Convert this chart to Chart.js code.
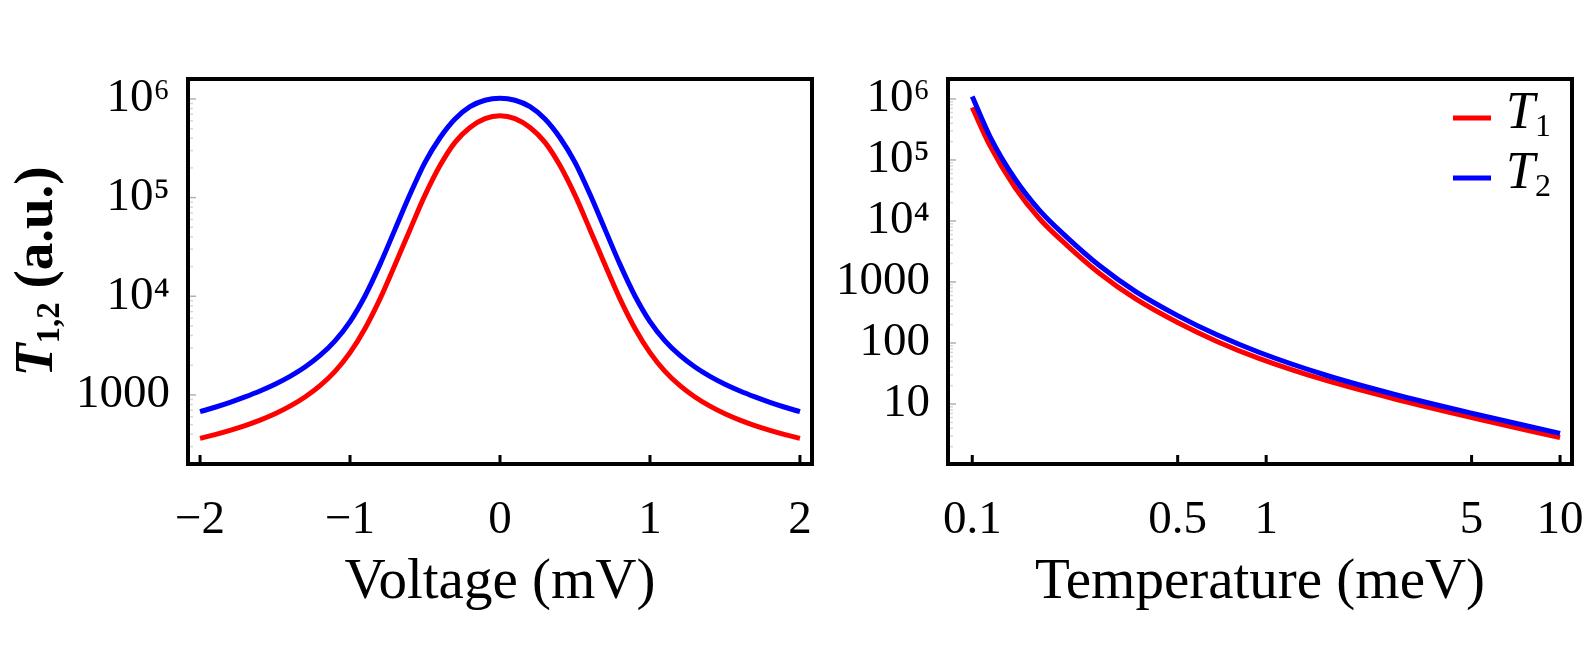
<!DOCTYPE html>
<html>
<head>
<meta charset="utf-8">
<script src="https://cdn.jsdelivr.net/npm/chart.js@4.4.0/dist/chart.umd.min.js"></script>
<style>
  html, body { margin: 0; padding: 0; background: #fff; }
  #wrap { position: relative; width: 1584px; height: 671px; overflow: hidden; background: #fff; }
  canvas { position: absolute; top: 0; }
  #voltageChart { left: 0; }
  #tempChart { left: 830px; }
</style>
</head>
<body>
<div id="wrap">
  <canvas id="voltageChart" width="830" height="671"></canvas>
  <canvas id="tempChart" width="754" height="671"></canvas>
</div>
<script>
// left panel: T1, T2 against voltage (mV)
const voltage = [-2.0, -1.9, -1.8, -1.7, -1.6, -1.5, -1.4, -1.3, -1.2, -1.1, -1.0,
  -0.9, -0.8, -0.7, -0.6, -0.5, -0.4, -0.3, -0.2, -0.1, 0.0,
  0.1, 0.2, 0.3, 0.4, 0.5, 0.6, 0.7, 0.8, 0.9, 1.0,
  1.1, 1.2, 1.3, 1.4, 1.5, 1.6, 1.7, 1.8, 1.9, 2.0];
const t1Voltage = [363, 396, 437, 488, 555, 644, 769, 953, 1242, 1734, 2685,
  4721, 9419, 20840, 47320, 105900, 211300, 363100, 512900, 631000, 676000,
  631000, 512900, 363100, 211300, 105900, 47320, 20840, 9419, 4721, 2685,
  1734, 1242, 953, 769, 644, 555, 488, 437, 396, 363];
const t2Voltage = [676, 750, 841, 955, 1096, 1282, 1542, 1919, 2512, 3532, 5534,
  10070, 21040, 47640, 107900, 227500, 404600, 626600, 835600, 970500, 1016000,
  970500, 835600, 626600, 404600, 227500, 107900, 47640, 21040, 10070, 5534,
  3532, 2512, 1919, 1542, 1282, 1096, 955, 841, 750, 676];

// right panel: T1, T2 against temperature (meV)
const temperature = [0.1, 0.115, 0.14, 0.17, 0.21, 0.27, 0.36, 0.5, 0.68, 0.95, 1.6, 2.7, 5, 10];
const t1Temp = [724000, 170200, 35000, 10670, 3990, 1406, 527, 216, 106, 55.5, 24.3, 12.3, 6.01, 2.81];
const t2Temp = [1096000, 240000, 48300, 14600, 5380, 1875, 695, 281, 136, 69.8, 29.6, 14.6, 7.06, 3.30];

const voltageTicks = [-2, -1, 0, 1, 2];
const voltageTickLabels = ["\u22122", "\u22121", "0", "1", "2"];
const tempTicks = [0.1, 0.5, 1, 5, 10];
const tempTickLabels = ["0.1", "0.5", "1", "5", "10"];
const leftYTicks = [1e3, 1e4, 1e5, 1e6];
const leftYTickLabels = ["1000", "10\u2074", "10\u2075", "10\u2076"];
const rightYTicks = [10, 100, 1e3, 1e4, 1e5, 1e6];
const rightYTickLabels = ["10", "100", "1000", "10\u2074", "10\u2075", "10\u2076"];

const SERIF = "'Liberation Serif', 'DejaVu Serif', serif";
const RED = "#ff0000";
const BLUE = "#0000ff";

function points(xs, ys) {
  return xs.map((x, i) => ({ x: x, y: ys[i] }));
}

// black frame round the plot, ticks pointing inward
const frameAndTicks = {
  id: "frameAndTicks",
  afterDatasetsDraw(chart) {
    const { ctx, chartArea: a, scales } = chart;
    ctx.save();
    // faint log ticks on the left edge
    const ys = scales.y;
    for (let e = -1; e <= 7; e++) {
      for (let k = 1; k <= 9; k++) {
        const v = k * Math.pow(10, e);
        if (v < ys.min || v > ys.max) continue;
        const py = ys.getPixelForValue(v);
        ctx.strokeStyle = k === 1 ? "#b0b0b0" : "#d8d8d8";
        ctx.lineWidth = 1.5;
        ctx.beginPath();
        ctx.moveTo(a.left, py);
        ctx.lineTo(a.left + (k === 1 ? 6 : 3), py);
        ctx.stroke();
      }
    }
    ctx.strokeStyle = "#000";
    ctx.lineWidth = 3;
    scales.x.ticks.forEach(t => {
      const px = scales.x.getPixelForValue(t.value);
      ctx.beginPath();
      ctx.moveTo(px, a.bottom);
      ctx.lineTo(px, a.bottom - 7);
      ctx.stroke();
    });
    ctx.lineWidth = 4;
    ctx.strokeRect(a.left - 2, a.top - 2, a.right - a.left + 4, a.bottom - a.top + 4);
    ctx.restore();
  }
};

// y title with italic T and subscript
const yTitle = {
  id: "yTitle",
  afterDraw(chart) {
    const { ctx, chartArea: a } = chart;
    const parts = [
      { text: "T", font: "italic bold 54px " + SERIF, dy: 0 },
      { text: "1,2", font: "bold 33px " + SERIF, dy: 7 },
      { text: " (a.u.)", font: "bold 55px " + SERIF, dy: 0 }
    ];
    ctx.save();
    ctx.translate(52, (a.top + a.bottom) / 2);
    ctx.rotate(-Math.PI / 2);
    ctx.fillStyle = "#000";
    ctx.textBaseline = "alphabetic";
    let w = 0;
    parts.forEach(p => { ctx.font = p.font; p.w = ctx.measureText(p.text).width; w += p.w; });
    let x = -w / 2;
    parts.forEach(p => { ctx.font = p.font; ctx.fillText(p.text, x, p.dy); x += p.w; });
    ctx.restore();
  }
};

// legend in the top right corner of the plot
const seriesLegend = {
  id: "seriesLegend",
  afterDraw(chart) {
    const ctx = chart.ctx;
    const lx = 623, ly = 118, gap = 60;
    ctx.save();
    chart.data.datasets.forEach((ds, i) => {
      const y = ly + i * gap;
      ctx.strokeStyle = ds.borderColor;
      ctx.lineWidth = 5;
      ctx.beginPath();
      ctx.moveTo(lx, y);
      ctx.lineTo(lx + 38, y);
      ctx.stroke();
      ctx.fillStyle = "#000";
      ctx.textBaseline = "alphabetic";
      ctx.font = "italic 52px " + SERIF;
      ctx.fillText(ds.label[0], lx + 53, y + 10);
      const tw = ctx.measureText(ds.label[0]).width;
      ctx.font = "32px " + SERIF;
      ctx.fillText(ds.label.slice(1), lx + 53 + tw, y + 18);
    });
    ctx.restore();
  }
};

function lineSet(label, data, color, order) {
  return {
    label: label,
    data: data,
    borderColor: color,
    backgroundColor: color,
    borderWidth: 5,
    pointRadius: 0,
    fill: false,
    cubicInterpolationMode: "monotone",
    order: order
  };
}

function axisX(type, min, max, tickVals, tickLabels, title) {
  return {
    type: type, min: min, max: max,
    afterBuildTicks: s => { s.ticks = tickVals.map(v => ({ value: v })); },
    afterFit: s => { s.height = 209; s.paddingLeft = 0; s.paddingRight = 0; },
    grid: { display: false },
    border: { display: false },
    ticks: {
      autoSkip: false, maxRotation: 0, padding: 22, color: "#000",
      font: { family: SERIF, size: 47 },
      callback: (v, i) => tickLabels[i]
    },
    title: {
      display: true, text: title, color: "#000",
      font: { family: SERIF, size: 57 },
      padding: { top: 0, bottom: 54 }
    }
  };
}

function axisY(min, max, tickVals, tickLabels, width) {
  return {
    type: "logarithmic", min: min, max: max,
    afterBuildTicks: s => { s.ticks = tickVals.map(v => ({ value: v })); },
    afterFit: s => { s.width = width; s.paddingTop = 0; s.paddingBottom = 0; },
    grid: { display: false },
    border: { display: false },
    ticks: {
      autoSkip: false, padding: 12, color: "#000",
      font: { family: SERIF, size: 47 },
      callback: (v, i) => tickLabels[i]
    }
  };
}

new Chart(document.getElementById("voltageChart"), {
  type: "line",
  data: {
    datasets: [
      lineSet("T1", points(voltage, t1Voltage), RED, 1),
      lineSet("T2", points(voltage, t2Voltage), BLUE, 0)
    ]
  },
  options: {
    responsive: false,
    animation: false,
    devicePixelRatio: 1,
    layout: { padding: { left: 0, top: 81, right: 20, bottom: 0 } },
    plugins: { legend: { display: false }, tooltip: { enabled: false } },
    scales: {
      x: axisX("linear", -2.067, 2.067, voltageTicks, voltageTickLabels, "Voltage (mV)"),
      y: axisY(209, 1.52e6, leftYTicks, leftYTickLabels, 190)
    }
  },
  plugins: [frameAndTicks, yTitle]
});

new Chart(document.getElementById("tempChart"), {
  type: "line",
  data: {
    datasets: [
      lineSet("T1", points(temperature, t1Temp), RED, 1),
      lineSet("T2", points(temperature, t2Temp), BLUE, 0)
    ]
  },
  options: {
    responsive: false,
    animation: false,
    devicePixelRatio: 1,
    layout: { padding: { left: 0, top: 81, right: 14, bottom: 0 } },
    plugins: { legend: { display: false }, tooltip: { enabled: false } },
    scales: {
      x: axisX("logarithmic", 0.084, 10.81, tempTicks, tempTickLabels, "Temperature (meV)"),
      y: axisY(1.12, 1.97e6, rightYTicks, rightYTickLabels, 120)
    }
  },
  plugins: [frameAndTicks, seriesLegend]
});
</script>
</body>
</html>
